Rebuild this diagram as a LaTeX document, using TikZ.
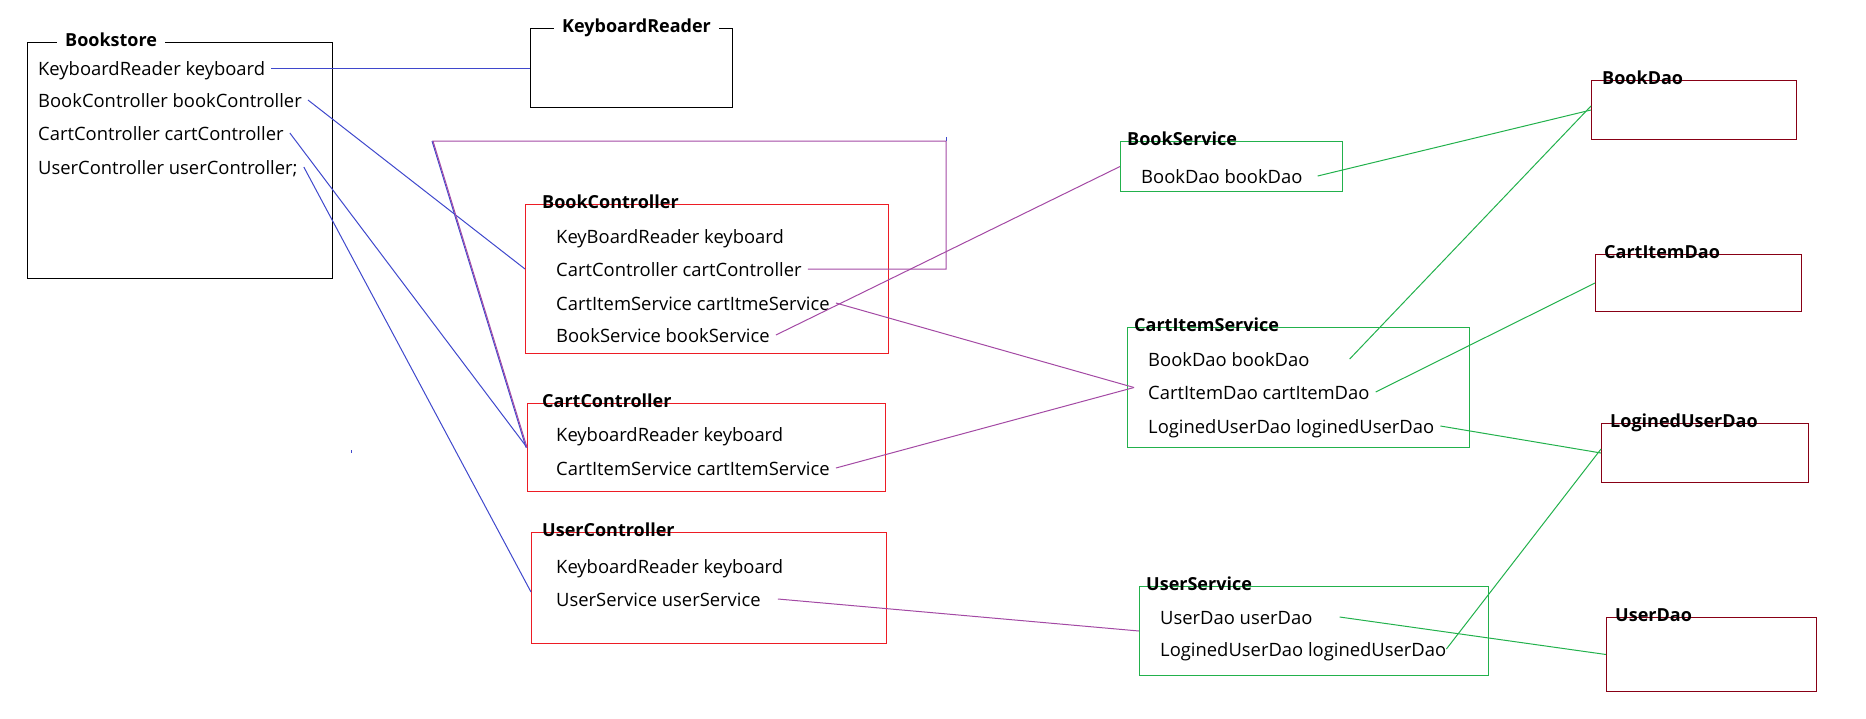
\documentclass[tikz,border=0pt]{standalone}
\usepackage{fontspec}
\setmainfont{Open Sans}
\usetikzlibrary{positioning,calc}
\definecolor{lineblue}{RGB}{63,72,204}
\definecolor{linepurple}{RGB}{163,73,164}
\definecolor{svcgreen}{RGB}{34,177,76}
\definecolor{ctrlred}{RGB}{237,28,36}
\definecolor{daored}{RGB}{136,0,21}
\newcommand{\itemfont}{\fontsize{18.4}{21}\selectfont}
\newcommand{\titlefont}{\fontsize{18}{21}\selectfont\bfseries}

\begin{document}
\begin{tikzpicture}[
    x=1pt, y=-1pt,
    box/.style={draw=#1, line width=1pt, anchor=north west, inner sep=0pt},
    item/.style={anchor=west, inner xsep=6pt, inner ysep=0pt, text height=18pt, text depth=4pt, font=\itemfont},
    title/.style={anchor=west, inner xsep=2pt, inner ysep=0pt, text height=13pt, text depth=4pt, font=\titlefont},
    legend/.style={title, fill=white, inner xsep=8pt},
    link/.style={draw=#1, line width=1pt}
]
\useasboundingbox (0,0) rectangle (1866,718);

% boxes
\node[box=black, minimum width=305, minimum height=236] (bookstore) at (27,42) {};
\node[box=black, minimum width=202, minimum height=79] (kbreader) at (530,28) {};
\node[box=ctrlred, minimum width=363, minimum height=149] (bookctrl) at (525,204) {};
\node[box=ctrlred, minimum width=358, minimum height=88] (cartctrl) at (527,403) {};
\node[box=ctrlred, minimum width=355, minimum height=111] (userctrl) at (531,532) {};
\node[box=svcgreen, minimum width=222, minimum height=50] (booksvc) at (1120,141) {};
\node[box=svcgreen, minimum width=342, minimum height=120] (cartsvc) at (1127,327) {};
\node[box=svcgreen, minimum width=349, minimum height=89] (usersvc) at (1139,586) {};
\node[box=daored, minimum width=205, minimum height=59] (bookdao) at (1591,80) {};
\node[box=daored, minimum width=206, minimum height=57] (cartdao) at (1595,254) {};
\node[box=daored, minimum width=207, minimum height=59] (logindao) at (1601,423) {};
\node[box=daored, minimum width=210, minimum height=74] (userdao) at (1606,617) {};

% titles
\node[legend] (bookstore-t) at ([xshift=30]bookstore.north west) {Bookstore};
\node[legend] (kbreader-t) at ([xshift=24]kbreader.north west) {KeyboardReader};
\node[title] (bookctrl-t) at ([xshift=15]bookctrl.north west) {BookController};
\node[title] (cartctrl-t) at ([xshift=13]cartctrl.north west) {CartController};
\node[title] (userctrl-t) at ([xshift=9]userctrl.north west) {UserController};
\node[title] (booksvc-t) at ([xshift=5]booksvc.north west) {BookService};
\node[title] (cartsvc-t) at ([xshift=5]cartsvc.north west) {CartItemService};
\node[title] (usersvc-t) at ([xshift=5]usersvc.north west) {UserService};
\node[title] (bookdao-t) at ([xshift=9]bookdao.north west) {BookDao};
\node[title] (cartdao-t) at ([xshift=7]cartdao.north west) {CartItemDao};
\node[title] (logindao-t) at ([xshift=7]logindao.north west) {LoginedUserDao};
\node[title] (userdao-t) at ([xshift=7]userdao.north west) {UserDao};

% fields
\node[item] (bs-kb) at (32,68) {KeyboardReader keyboard};
\node[item] (bs-bc) at (32,100) {BookController bookController};
\node[item] (bs-cc) at (32,133) {CartController cartController};
\node[item] (bs-uc) at (32,167) {UserController userController;};

\node[item] (bc-kb) at (550,236) {KeyBoardReader keyboard};
\node[item] (bc-cc) at (550,269) {CartController cartController};
\node[item] (bc-cis) at (550,303) {CartItemService cartItmeService};
\node[item] (bc-bs) at (550,335) {BookService bookService};

\node[item] (cc-kb) at (550,434) {KeyboardReader keyboard};
\node[item] (cc-cis) at (550,468) {CartItemService cartItemService};

\node[item] (uc-kb) at (550,566) {KeyboardReader keyboard};
\node[item] (uc-us) at (550,599) {UserService userService};

\node[item] (bsv-bd) at (1135,176) {BookDao bookDao};

\node[item] (cis-bd) at (1142,359) {BookDao bookDao};
\node[item] (cis-cid) at (1142,392) {CartItemDao cartItemDao};
\node[item] (cis-lud) at (1142,426) {LoginedUserDao loginedUserDao};

\node[item] (us-ud) at (1154,617) {UserDao userDao};
\node[item] (us-lud) at (1154,649) {LoginedUserDao loginedUserDao};

\coordinate (loop-r) at (946,141);
\coordinate (loop-l) at (433,141);

% Bookstore -> controllers
\draw[link=lineblue] (bs-kb.east) -- (kbreader.west |- bs-kb.east);
\draw[link=lineblue] (bs-bc.east) -- ([yshift=10]bookctrl.west);
\draw[link=lineblue] (bs-cc.east) -- (cartctrl.west);
\draw[link=lineblue] (bs-uc.east) -- ([yshift=-4]userctrl.west);
\draw[link=lineblue] ([xshift=-1]loop-l) -- ([xshift=-1]cartctrl.west);
\draw[link=lineblue] (loop-r) -- ++(0,-4);

% controllers -> services
\draw[link=linepurple] (bc-cc.east) -| (loop-r) -- (loop-l) -- (cartctrl.west);
\draw[link=linepurple] (bc-cis.east) -- ([xshift=7]cartsvc.west);
\draw[link=linepurple] (bc-bs.east) -- (booksvc.west);
\draw[link=linepurple] (cc-cis.east) -- ([xshift=7]cartsvc.west);
\draw[link=linepurple] ([xshift=11]uc-us.east) -- (usersvc.west);

% services -> daos
\draw[link=svcgreen] ([xshift=9]bsv-bd.east) -- (bookdao.west);
\draw[link=svcgreen] ([xshift=34]cis-bd.east) -- ([yshift=4]bookdao.west);
\draw[link=svcgreen] (cis-cid.east) -- (cartdao.west);
\draw[link=svcgreen] (cis-lud.east) -- (logindao.west);
\draw[link=svcgreen] ([xshift=21]us-ud.east) -- (userdao.west);
\draw[link=svcgreen] ([xshift=-6]us-lud.east) -- ([yshift=4]logindao.west);

\fill[lineblue] (350.5,450) rectangle (352,453);
\end{tikzpicture}
\end{document}
